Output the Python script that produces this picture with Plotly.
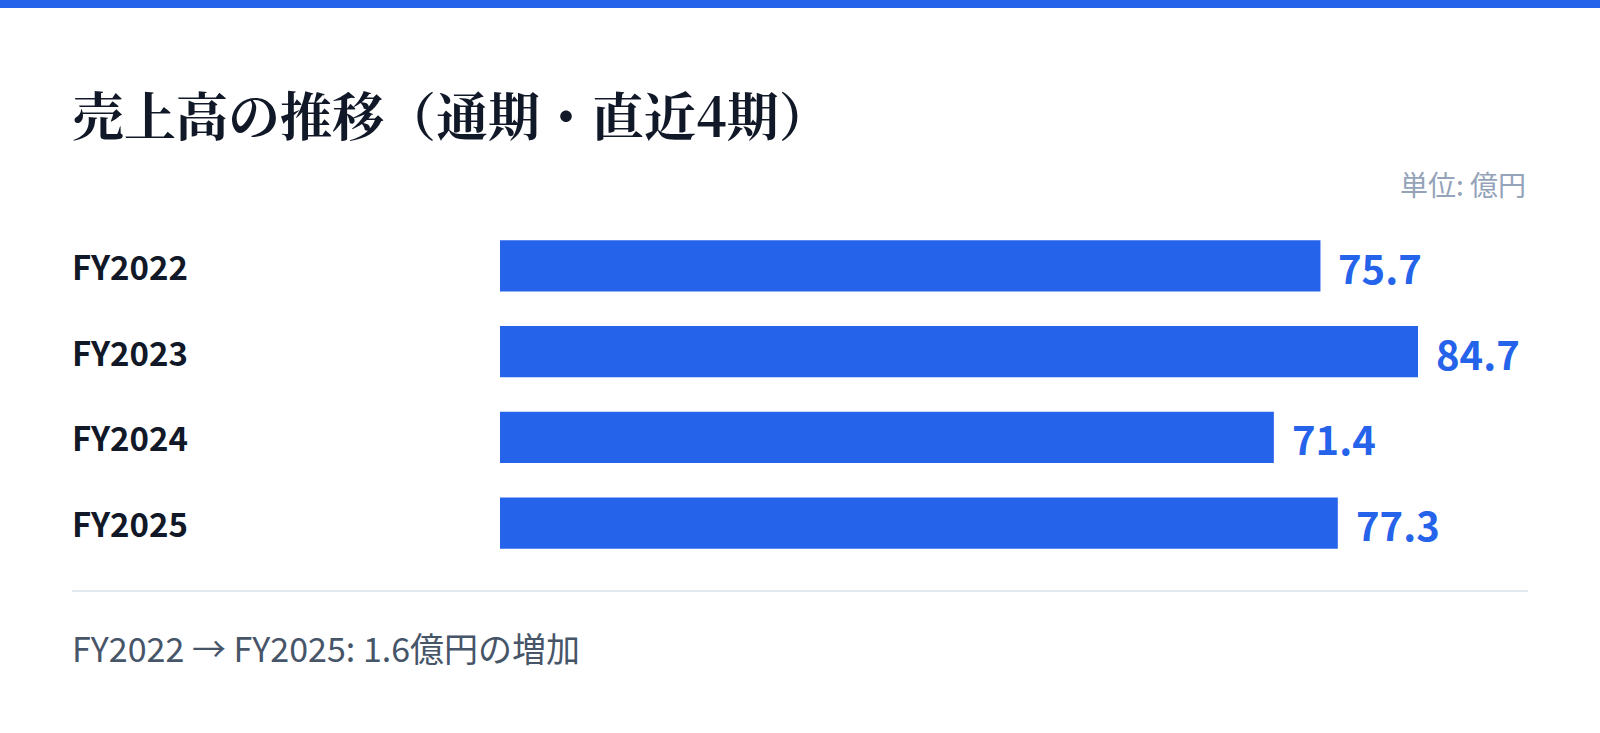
import plotly.graph_objects as go

W, H = 1600, 733

# data
periods = ["FY2022", "FY2023", "FY2024", "FY2025"]
sales = [75.7, 84.7, 71.4, 77.3]
unitLabel = "単位: 億円"
titleText = "売上高の推移（通期・直近4期）"
footerText = "FY2022 → FY2025: 1.6億円の増加"

BLUE = "#2563EB"
SANS = "Noto Sans CJK JP, Noto Sans, sans-serif"
SERIF = "Noto Serif CJK JP, Noto Serif JP, serif"

plotLeft, plotRight = 500, 1528
plotTop, plotBottom = 223, 566
pxPerUnit = 918 / 84.7

def px(xp):
    return (xp - plotLeft) / (plotRight - plotLeft)

def py(yp):
    return (plotBottom - yp) / (plotBottom - plotTop)

fig = go.Figure()
fig.add_trace(go.Bar(
    x=sales, y=periods, orientation="h",
    marker=dict(color=BLUE, line=dict(width=0)),
    hoverinfo="skip",
))

for p, v in zip(periods, sales):
    # value label right of each bar
    fig.add_annotation(x=v, y=p, xref="x", yref="y", text="<b>{:.1f}</b>".format(v),
        showarrow=False, xanchor="left", yanchor="middle", xshift=16, yshift=-1,
        font=dict(family=SANS, size=40, color=BLUE))
    # category label, left aligned
    fig.add_annotation(x=px(70), y=p, xref="paper", yref="y",
        text="<b>{}</b>".format(p), showarrow=False, xanchor="left", yanchor="middle",
        font=dict(family=SANS, size=33, color="#111827"))

fig.add_annotation(x=px(70), y=py(113), xref="paper", yref="paper", text="<b>" + titleText + "</b>",
    showarrow=False, xanchor="left", yanchor="middle", font=dict(family=SERIF, size=52, color="#111827"))
fig.add_annotation(x=px(1528), y=py(184), xref="paper", yref="paper", text=unitLabel,
    showarrow=False, xanchor="right", yanchor="middle", font=dict(family=SANS, size=28, color="#94A3B8"))
fig.add_annotation(x=px(70), y=py(647), xref="paper", yref="paper", text=footerText,
    showarrow=False, xanchor="left", yanchor="middle", font=dict(family=SANS, size=34, color="#475569"))

# top accent bar and separator
fig.add_shape(type="rect", xref="paper", yref="paper", x0=px(0), x1=px(W), y0=py(0), y1=py(8),
    fillcolor=BLUE, line=dict(width=0))
fig.add_shape(type="line", xref="paper", yref="paper", x0=px(72), x1=px(1528), y0=py(591), y1=py(591),
    line=dict(color="#E2E8F0", width=2))

fig.update_layout(
    width=W, height=H,
    margin=dict(l=plotLeft, r=W - plotRight, t=plotTop, b=H - plotBottom, pad=0),
    paper_bgcolor="white", plot_bgcolor="white",
    showlegend=False, bargap=0.4,
    xaxis=dict(range=[0, (plotRight - plotLeft) / pxPerUnit], visible=False, fixedrange=True),
    yaxis=dict(autorange="reversed", showticklabels=False, showgrid=False, zeroline=False,
               showline=False, ticks="", fixedrange=True),
)

fig.write_html("out.html", config=dict(displayModeBar=False),
    post_script="document.body.style.margin='0';document.body.style.overflow='hidden';")
